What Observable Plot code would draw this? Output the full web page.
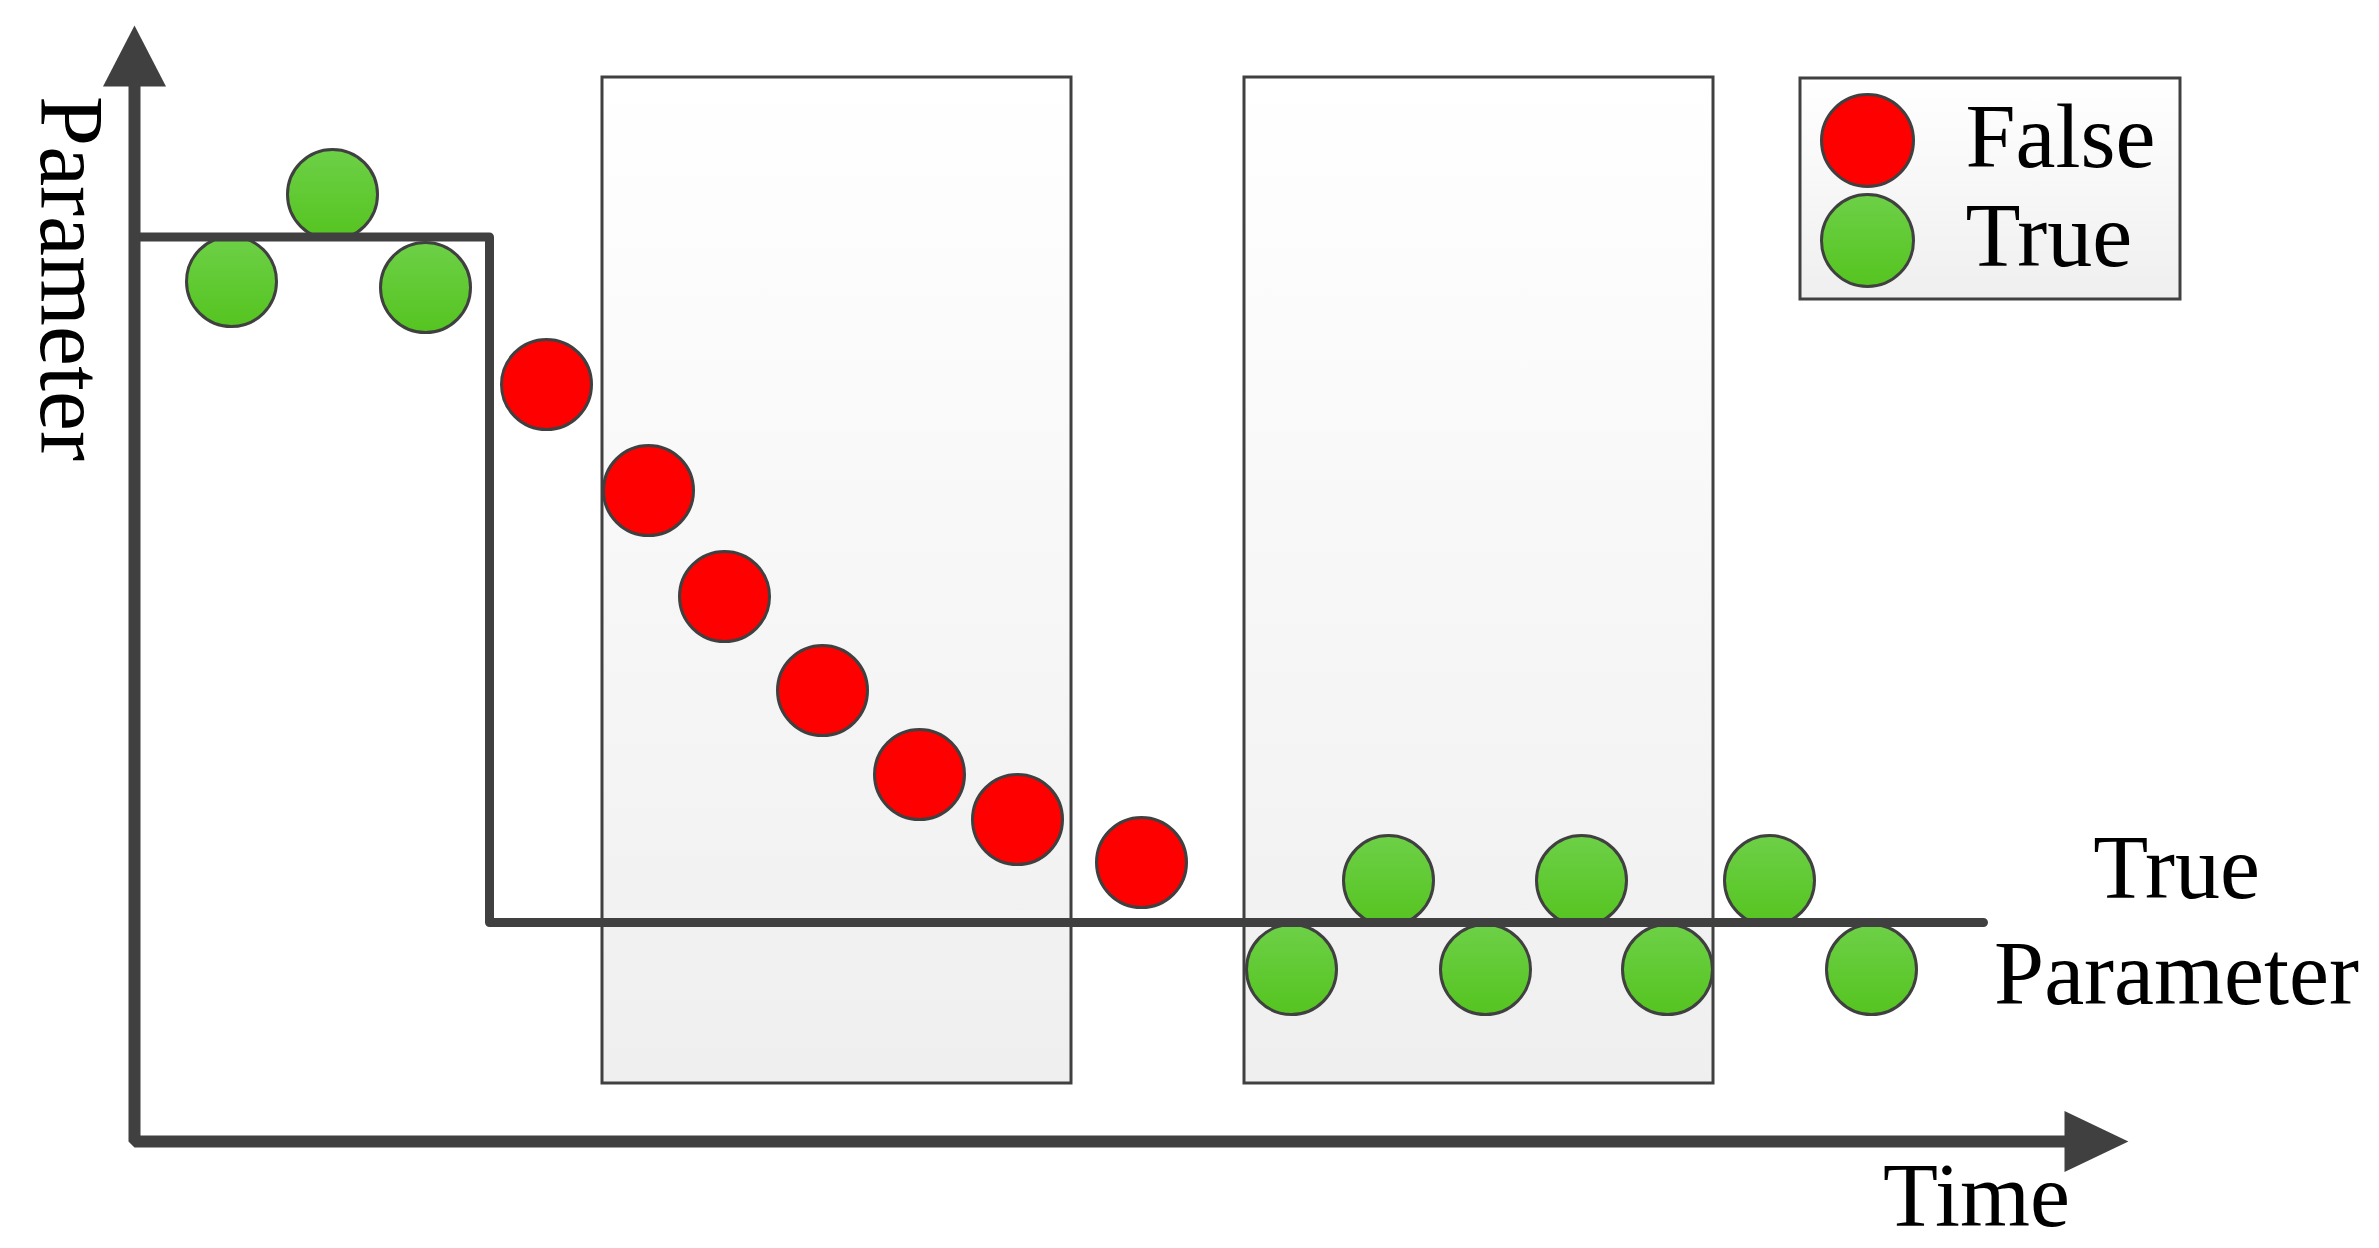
<!DOCTYPE html>
<html>
<head>
<meta charset="utf-8">
<script src="https://cdn.jsdelivr.net/npm/d3@7"></script>
<script src="https://cdn.jsdelivr.net/npm/@observablehq/plot@0.6"></script>
<style>
  html, body { margin: 0; padding: 0; background: #ffffff; }
  svg { display: block; }
</style>
</head>
<body>
<div id="chart"></div>
<script>
// ---- Data (time units, parameter units) ----
const times = [4.85, 9.9, 14.55, 20.6, 25.7, 29.5, 34.4, 39.25, 44.15, 50.35,
               57.85, 62.7, 67.55, 72.35, 76.65, 81.75, 86.85];
const estimates = [86.0, 94.7, 85.4, 75.7, 65.1, 54.5, 45.1, 36.7, 32.2, 27.9,
                   17.2, 26.1, 17.2, 26.1, 17.2, 26.1, 17.2];
const status = ["True", "True", "True",
                "False", "False", "False", "False", "False", "False", "False",
                "True", "True", "True", "True", "True", "True", "True"];

const trueParamTime = [0, 17.75, 92.45];
const trueParamValue = [90.45, 21.9, 21.9];

const windowStart = [23.4, 55.5];
const windowEnd = [46.85, 78.95];
const windowBottom = 5.8;
const windowTop = 106.4;

const yAxisEnd = 105.8;
const xAxisEnd = 96.8;
const yArrowBase = 105.5;
const xArrowBase = 96.5;

const legendLabels = ["False", "True"];
const legendValue = [100.1, 90.1];
const legendTextValue = [97.5, 87.6];
const legendBox = {x1: 83.3, x2: 102.3, y1: 84.2, y2: 106.3};
const legendDotTime = 86.65;
const legendTextTime = 91.55;

const curveLabels = ["True", "Parameter"];
const curveLabelTime = [102.1, 102.1];
const curveLabelValue = [24.4, 13.8];

const xLabel = "Time";
const yLabel = "Parameter";

// ---- Derived tables ----
const points = times.map((t, i) => ({time: t, value: estimates[i], status: status[i]}));
const stepLine = trueParamTime.map((t, i) => ({time: t, value: trueParamValue[i]}));
const windows = windowStart.map((s, i) => ({x1: s, x2: windowEnd[i], y1: windowBottom, y2: windowTop}));
const axisPath = [
  {time: 0, value: yAxisEnd},
  {time: 0, value: 0},
  {time: xAxisEnd, value: 0}
];

const arrowUp = {
  draw(ctx, size) {
    const r = Math.sqrt(size / Math.PI);
    ctx.moveTo(0, -2.03 * r);
    ctx.lineTo(1.05 * r, 0);
    ctx.lineTo(-1.05 * r, 0);
    ctx.closePath();
  }
};
const arrowRight = {
  draw(ctx, size) {
    const r = Math.sqrt(size / Math.PI);
    ctx.moveTo(2.13 * r, 0);
    ctx.lineTo(0, 1.02 * r);
    ctx.lineTo(0, -1.02 * r);
    ctx.closePath();
  }
};

const GRAY = "#404040";
const FONT = "Liberation Serif, Times New Roman, serif";

const svg = Plot.plot({
  width: 2379,
  height: 1248,
  margin: 0,
  x: {domain: [-6.7, 112.25], axis: null},
  y: {domain: [-10.7, 114.1], axis: null},
  style: {background: "white"},
  marks: [
    // shaded windows
    Plot.rect(windows, {x1: "x1", x2: "x2", y1: "y1", y2: "y2",
      fill: "url(#boxGrad)", stroke: GRAY, strokeWidth: 3}),
    // estimate points
    Plot.dot(points.filter(d => d.status === "False"), {x: "time", y: "value", r: 45,
      fill: "#ff0000", stroke: GRAY, strokeWidth: 3}),
    Plot.dot(points.filter(d => d.status === "True"), {x: "time", y: "value", r: 45,
      fill: "url(#greenGrad)", stroke: GRAY, strokeWidth: 3}),
    // true parameter step line
    Plot.line(stepLine, {x: "time", y: "value", curve: "step-after",
      stroke: GRAY, strokeWidth: 9, strokeLinecap: "round", strokeLinejoin: "round"}),
    // axes
    Plot.line(axisPath, {x: "time", y: "value", stroke: GRAY, strokeWidth: 12,
      strokeLinejoin: "miter", strokeLinecap: "butt"}),
    Plot.dot([0], {x: [0], y: [yArrowBase], symbol: arrowUp, r: 30, fill: GRAY, stroke: "none"}),
    Plot.dot([0], {x: [xArrowBase], y: [0], symbol: arrowRight, r: 30, fill: GRAY, stroke: "none"}),
    // axis labels
    Plot.text([yLabel], {x: [-4.7], y: [86.3], text: d => d, rotate: 90,
      textAnchor: "middle", lineAnchor: "bottom", fontSize: 90, fontFamily: FONT, fill: "black"}),
    Plot.text([xLabel], {x: [92.1], y: [-8.4], text: d => d,
      textAnchor: "middle", lineAnchor: "bottom", fontSize: 90, fontFamily: FONT, fill: "black"}),
    // curve label
    Plot.text(curveLabels, {x: curveLabelTime, y: curveLabelValue, text: d => d,
      textAnchor: "middle", lineAnchor: "bottom", fontSize: 90, fontFamily: FONT, fill: "black"}),
    // legend
    Plot.rect([legendBox], {x1: "x1", x2: "x2", y1: "y1", y2: "y2",
      fill: "url(#boxGrad)", stroke: GRAY, strokeWidth: 3}),
    Plot.dot(legendLabels, {x: legendLabels.map(() => legendDotTime), y: legendValue, r: 46,
      fill: d => d, stroke: GRAY, strokeWidth: 3}),
    Plot.text(legendLabels, {x: legendLabels.map(() => legendTextTime), y: legendTextValue, text: d => d,
      textAnchor: "start", lineAnchor: "bottom", fontSize: 90, fontFamily: FONT, fill: "black"})
  ],
  color: {domain: legendLabels, range: ["#ff0000", "url(#greenGrad)"]}
});

// gradient definitions
const NS = "http://www.w3.org/2000/svg";
const defs = document.createElementNS(NS, "defs");
function grad(id, stops) {
  const g = document.createElementNS(NS, "linearGradient");
  g.setAttribute("id", id);
  g.setAttribute("x1", "0"); g.setAttribute("y1", "0");
  g.setAttribute("x2", "0"); g.setAttribute("y2", "1");
  for (const [o, c] of stops) {
    const s = document.createElementNS(NS, "stop");
    s.setAttribute("offset", o);
    s.setAttribute("stop-color", c);
    g.appendChild(s);
  }
  defs.appendChild(g);
}
grad("boxGrad", [["0", "#ffffff"], ["1", "#efefef"]]);
grad("greenGrad", [["0", "#6dd047"], ["1", "#55c420"]]);
svg.insertBefore(defs, svg.firstChild);

document.getElementById("chart").appendChild(svg);
</script>
</body>
</html>
